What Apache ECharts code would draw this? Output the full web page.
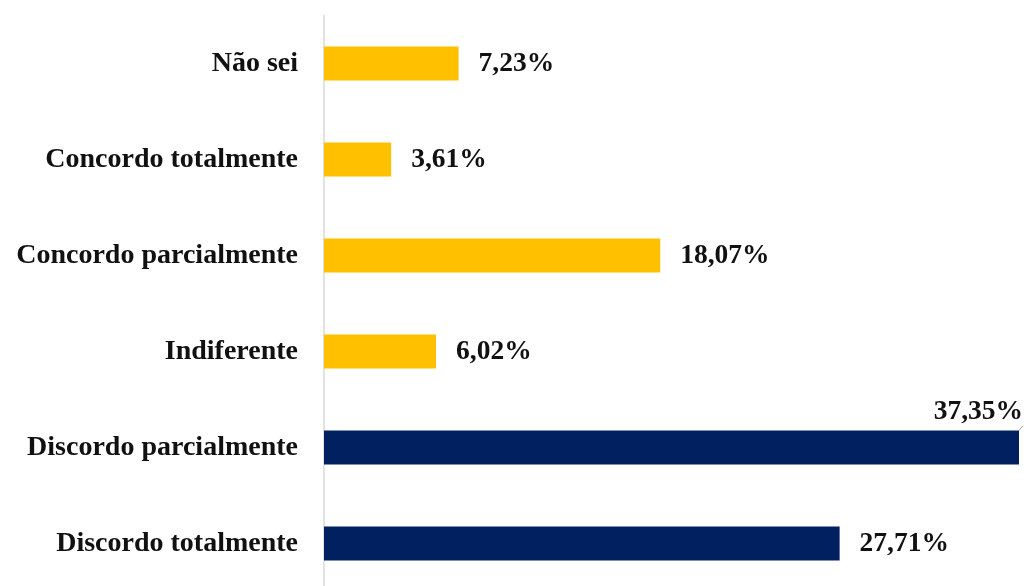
<!DOCTYPE html>
<html><head><meta charset="utf-8">
<script src="https://cdn.jsdelivr.net/npm/echarts@6/dist/echarts.min.js"></script>
<style>html,body{margin:0;padding:0;background:#fff;}#c{width:1026px;height:586px;}</style>
</head><body><div id="c"></div>
<script>
const categories = ['Discordo totalmente','Discordo parcialmente','Indiferente','Concordo parcialmente','Concordo totalmente','Não sei'];
const values = [27.71, 37.35, 6.02, 18.07, 3.61, 7.23];
const barColors = ['#002060','#002060','#FFC000','#FFC000','#FFC000','#FFC000'];
const axisMax = 37.35;

const font = '"Liberation Serif","Times New Roman",serif';
const fmt = v => v.toFixed(2).replace('.', ',') + '%';

const data = values.map((v, i) => {
  const item = { value: v, itemStyle: { color: barColors[i] } };
  if (v === axisMax) {
    item.label = { position: 'insideRight', offset: [24, -36] };
    item.labelLine = { show: true, lineStyle: { color: '#a6a6a6', width: 1 } };
  }
  return item;
});

const chart = echarts.init(document.getElementById('c'), null, { renderer: 'canvas' });
chart.setOption({
  animation: false,
  grid: { left: 324, right: 7, top: 15.5, height: 576, outerBoundsMode: 'none', containLabel: false },
  xAxis: { type: 'value', min: 0, max: axisMax, show: false },
  yAxis: {
    type: 'category', data: categories,
    axisLine: { show: true, lineStyle: { color: '#d9d9d9', width: 1.5 } },
    axisTick: { show: false },
    axisLabel: { color: '#111', fontFamily: font, fontWeight: 'bold', fontSize: 28, margin: 26 }
  },
  series: [{
    type: 'bar', data: data, barWidth: 34,
    label: {
      show: true, position: 'right', distance: 20,
      color: '#111', fontFamily: font, fontWeight: 'bold', fontSize: 27.5,
      formatter: p => fmt(p.value)
    }
  }]
});
</script></body></html>
